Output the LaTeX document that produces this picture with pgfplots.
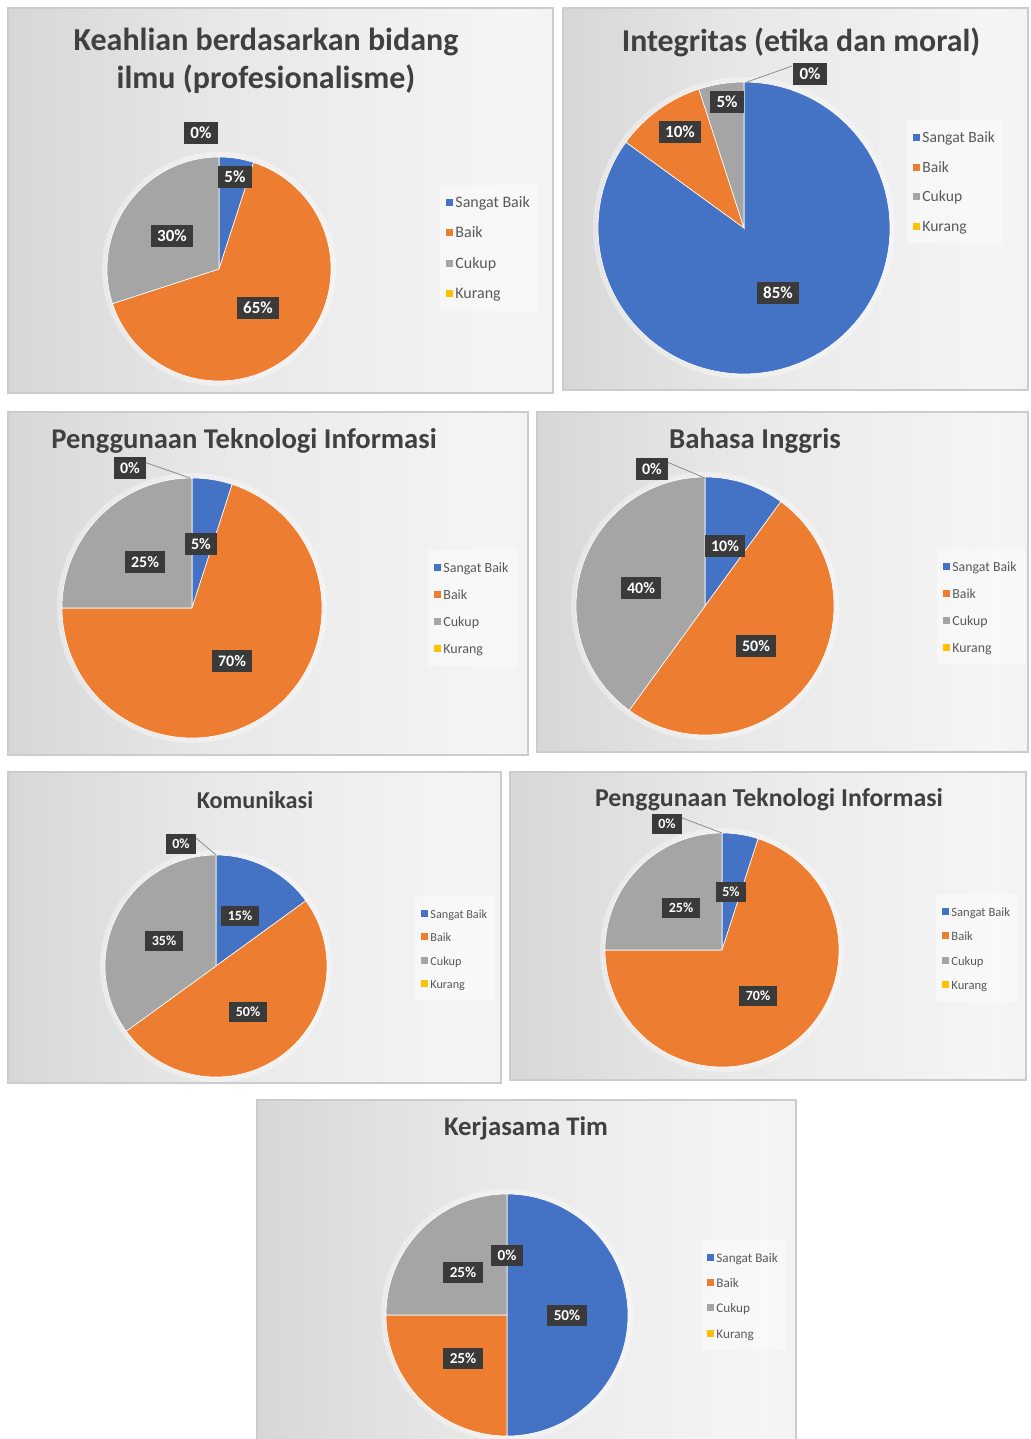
\documentclass[border=0pt]{standalone}
\usepackage{pgfplots}
\pgfplotsset{compat=1.18}
\usepackage{fontspec}
\setmainfont{Carlito}
\definecolor{cSB}{HTML}{4472C4}
\definecolor{cBA}{HTML}{ED7D31}
\definecolor{cCU}{HTML}{A5A5A5}
\definecolor{cKU}{HTML}{FFC000}
\definecolor{lblgray}{HTML}{3A3A3A}
\definecolor{titlegray}{HTML}{404040}
\definecolor{leggray}{HTML}{595959}
\pgfdeclarehorizontalshading{panelshade}{100bp}{color(0bp)=(black!24); color(45bp)=(black!9); color(72bp)=(black!4); color(100bp)=(black!13)}
\newcommand{\panel}[4]{%
  \shade[shading=panelshade] (#1,#2) rectangle (#3,#4);
  \draw[black!20, line width=0.6pt] (#1,#2) rectangle (#3,#4);}
\tikzset{ttl/.style={text=titlegray, align=center, inner sep=0pt},
  plabel/.style={fill=lblgray, text=white, inner xsep=3.2pt, inner ysep=2.6pt, font=\lblfont}}
\newcommand{\lblfont}{\bfseries\fontsize{8.5}{8.5}\selectfont}
\pgfplotsset{
  legend image code/.code={\path[#1, draw=none, fill opacity=1] (0.3pt,-1.75pt) rectangle (3.8pt,1.75pt);},
  pieax/.style={hide axis, clip=false, x=0.5pt, y=0.5pt,
    xmin=-#1, xmax=#1, ymin=-#1, ymax=#1, anchor=center,
    legend cell align=left,
    legend style={anchor=north west, fill=white, fill opacity=0.45, text opacity=1,
      draw=none, text=leggray, inner sep=3pt,
      nodes={inner sep=1pt, text height=0.7em, text depth=0.2em}}},
  slice/.style={draw=white, line width=0.3pt, samples=90}}
% R, Sangat Baik, Baik, Cukup, Kurang (percent)
\newcommand{\pieslices}[5]{%
  \pgfmathsetmacro\pA{90}%
  \pgfmathsetmacro\pB{90-3.6*#2}%
  \pgfmathsetmacro\pC{\pB-3.6*#3}%
  \pgfmathsetmacro\pD{\pC-3.6*#4}%
  \fill[white, opacity=0.35] (axis cs:0,0) circle[radius=#1+5];
  \addplot[slice, fill=cSB, domain=\pA:\pB] ({#1*cos(x)},{#1*sin(x)}) -- (axis cs:0,0) -- cycle;
  \addlegendentry{Sangat Baik}
  \addplot[slice, fill=cBA, domain=\pB:\pC] ({#1*cos(x)},{#1*sin(x)}) -- (axis cs:0,0) -- cycle;
  \addlegendentry{Baik}
  \addplot[slice, fill=cCU, domain=\pC:\pD] ({#1*cos(x)},{#1*sin(x)}) -- (axis cs:0,0) -- cycle;
  \addlegendentry{Cukup}
  \addlegendimage{fill=cKU}
  \addlegendentry{Kurang}}
\newcommand{\legfont}[1]{\fontsize{#1}{#1}\selectfont}
\begin{document}
\begin{tikzpicture}[x=0.5pt,y=-0.5pt]
\fill[white] (0,0) rectangle (1030,1439);
\path[use as bounding box] (0,0) rectangle (1030,1439);
\panel{8}{8}{553}{393}
\panel{563}{8}{1028}{390}
\panel{8}{412}{528}{755}
\panel{537}{412}{1028}{752}
\panel{8}{772}{501}{1083}
\panel{510}{772}{1026}{1080}
\panel{257}{1100}{796}{1445}
% titles
\node[ttl, font=\bfseries\fontsize{16}{19}\selectfont] at (266,61) {Keahlian berdasarkan bidang\\ilmu (profesionalisme)};
\node[ttl, font=\bfseries\fontsize{15.9}{17}\selectfont] at (801,42) {Integritas (etika dan moral)};
\node[ttl, font=\bfseries\fontsize{14.3}{15}\selectfont] at (244,441) {Penggunaan Teknologi Informasi};
\node[ttl, font=\bfseries\fontsize{14.4}{15}\selectfont] at (755,441) {Bahasa Inggris};
\node[ttl, font=\bfseries\fontsize{12.1}{14}\selectfont] at (255,800) {Komunikasi};
\node[ttl, font=\bfseries\fontsize{12.9}{14}\selectfont] at (769,800) {Penggunaan Teknologi Informasi};
\node[ttl, font=\bfseries\fontsize{13.4}{14}\selectfont] at (526,1128) {Kerjasama Tim};
% ---------- 1
\begin{scope}
\clip (8,8) rectangle (553,393);
\begin{axis}[pieax=112, at={(109.5pt,-134.5pt)},
  legend style={at={(axis cs:221,84)}, font=\legfont{8}, row sep=4.25pt}]
\pieslices{112}{5}{65}{30}{0}
\node[plabel] at (axis cs:-18,136) {0\%};
\node[plabel] at (axis cs:16,92) {5\%};
\node[plabel] at (axis cs:-47,33) {30\%};
\node[plabel] at (axis cs:39,-39) {65\%};
\end{axis}
\end{scope}
% ---------- 2
\begin{scope}
\clip (563,8) rectangle (1028,390);
\begin{axis}[pieax=146, at={(372pt,-114pt)},
  legend style={at={(axis cs:163,108)}, font=\legfont{7.8}, row sep=3.85pt}]
\pieslices{146}{85}{10}{5}{0}
\draw[black!45, line width=0.4pt] (axis cs:3,146) -- (axis cs:48,162);
\node[plabel] at (axis cs:66,154) {0\%};
\node[plabel] at (axis cs:-17,126) {5\%};
\node[plabel] at (axis cs:-64,96) {10\%};
\node[plabel] at (axis cs:34,-65) {85\%};
\end{axis}
\end{scope}
% ---------- 3
\renewcommand{\lblfont}{\bfseries\fontsize{8}{8}\selectfont}
\begin{scope}
\clip (8,412) rectangle (528,755);
\begin{axis}[pieax=130, at={(96pt,-304pt)},
  legend style={at={(axis cs:236,58)}, font=\legfont{7}, row sep=2.55pt}]
\pieslices{130}{5}{70}{25}{0}
\draw[black!45, line width=0.4pt] (axis cs:-2,130) -- (axis cs:-48,146);
\node[plabel] at (axis cs:-62,140) {0\%};
\node[plabel] at (axis cs:9,64) {5\%};
\node[plabel] at (axis cs:-47,46) {25\%};
\node[plabel] at (axis cs:40,-53) {70\%};
\end{axis}
\end{scope}
% ---------- 4
\begin{scope}
\clip (537,412) rectangle (1028,752);
\begin{axis}[pieax=129, at={(352.5pt,-303pt)},
  legend style={at={(axis cs:232,57)}, font=\legfont{6.9}, row sep=2.45pt}]
\pieslices{129}{10}{50}{40}{0}
\draw[black!45, line width=0.4pt] (axis cs:0,128) -- (axis cs:-38,144);
\node[plabel] at (axis cs:-53,137) {0\%};
\node[plabel] at (axis cs:20,60) {10\%};
\node[plabel] at (axis cs:-64,18) {40\%};
\node[plabel] at (axis cs:51,-40) {50\%};
\end{axis}
\end{scope}
% ---------- 5
\renewcommand{\lblfont}{\bfseries\fontsize{7}{7}\selectfont}
\begin{scope}
\clip (8,772) rectangle (501,1083);
\begin{axis}[pieax=111, at={(108pt,-483pt)},
  legend style={at={(axis cs:199,70)}, font=\legfont{6.1}, row sep=0.65pt}]
\pieslices{111}{15}{50}{35}{0}
\draw[black!45, line width=0.4pt] (axis cs:0,111) -- (axis cs:-20,128);
\node[plabel] at (axis cs:-35,122) {0\%};
\node[plabel] at (axis cs:24,50) {15\%};
\node[plabel] at (axis cs:-52,25) {35\%};
\node[plabel] at (axis cs:32,-46) {50\%};
\end{axis}
\end{scope}
% ---------- 6
\begin{scope}
\clip (510,772) rectangle (1026,1080);
\begin{axis}[pieax=117, at={(361pt,-475pt)},
  legend style={at={(axis cs:214,56)}, font=\legfont{6.3}, row sep=1.2pt}]
\pieslices{117}{5}{70}{25}{0}
\draw[black!45, line width=0.4pt] (axis cs:0,117) -- (axis cs:-40,132);
\node[plabel] at (axis cs:-55,126) {0\%};
\node[plabel] at (axis cs:9,58) {5\%};
\node[plabel] at (axis cs:-41,42) {25\%};
\node[plabel] at (axis cs:36,-46) {70\%};
\end{axis}
\end{scope}
% ---------- 7
\renewcommand{\lblfont}{\bfseries\fontsize{7.6}{7.6}\selectfont}
\begin{scope}
\clip (257,1100) rectangle (796,1445);
\begin{axis}[pieax=121, at={(253.5pt,-657.5pt)},
  legend style={at={(axis cs:194,75)}, font=\legfont{6.6}, row sep=1.6pt}]
\pieslices{121}{50}{25}{25}{0}
\node[plabel] at (axis cs:0,60) {0\%};
\node[plabel] at (axis cs:-44,43) {25\%};
\node[plabel] at (axis cs:60,0) {50\%};
\node[plabel] at (axis cs:-44,-43) {25\%};
\end{axis}
\end{scope}
\end{tikzpicture}
\end{document}
